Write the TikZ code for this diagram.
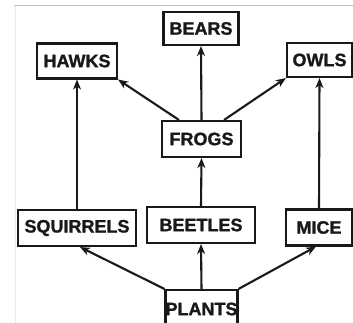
\documentclass[tikz,border=0pt]{standalone}
\usepackage{fontspec}
\setmainfont{Liberation Sans}[BoldFeatures={FakeBold=1.2}]
\usetikzlibrary{arrows.meta}
\begin{document}
\begin{tikzpicture}[x=1pt,y=1pt,
  box/.style={draw=black!90,line width=2.1pt,fill=white,inner sep=0pt,
    font=\fontsize{18}{20}\selectfont\bfseries,text=black!90},
  link/.style={draw=black!90,line width=2.1pt,-{Stealth[length=10pt,width=8pt,inset=3pt]}}]
\useasboundingbox (0,0) rectangle (353,323);
\fill[white] (0,0) rectangle (353,323);
\draw[black!25,line width=1pt] (14,317) -- (353,317);
\draw[black!8,line width=0.8pt] (15,317) -- (15,0);
\begin{scope}
\clip (0,0) rectangle (353,323);
\node[box,minimum width=75pt,minimum height=33pt] (bears) at (201,294.5) {BEARS};
\node[box,minimum width=80pt,minimum height=35pt] (hawks) at (77,262) {HAWKS};
\node[box,minimum width=65pt,minimum height=34pt] (owls) at (319.5,263) {OWLS};
\node[box,minimum width=79pt,minimum height=36pt] (frogs) at (201.5,184) {FROGS};
\node[box,minimum width=118pt,minimum height=36pt] (squirrels) at (77,95) {SQUIRRELS};
\node[box,minimum width=108pt,minimum height=36pt] (beetles) at (201,98) {BEETLES};
\node[box,minimum width=66pt,minimum height=36pt] (mice) at (319,95.5) {MICE};
\node[box,minimum width=71pt,minimum height=38pt] (plants) at (201.5,14) {PLANTS};
\end{scope}
\draw[link] (plants.north west) -- ([xshift=3pt]squirrels.south);
\draw[link] (plants.north) -- (beetles.south);
\draw[link] (plants.north east) -- ([xshift=-3pt]mice.south);
\draw[link] (squirrels.north) -- (hawks.south);
\draw[link] (beetles.north) -- (frogs.south);
\draw[link] (mice.north) -- (owls.south);
\draw[link] ([xshift=18pt]frogs.north west) -- (hawks.south east);
\draw[link] (frogs.north) -- (bears.south);
\draw[link] ([xshift=-18pt]frogs.north east) -- (owls.south west);
\end{tikzpicture}
\end{document}
